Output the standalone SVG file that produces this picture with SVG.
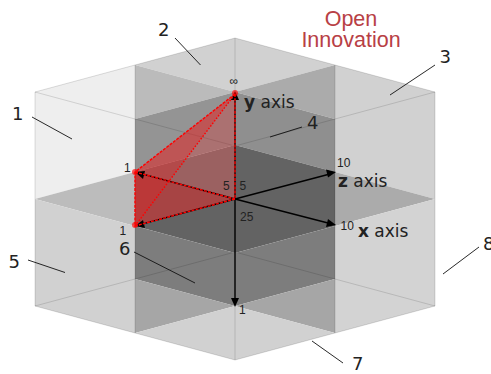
<svg xmlns="http://www.w3.org/2000/svg" width="491" height="374" viewBox="0 0 491 374">
<style>
.f{stroke:none}
.e{fill:none;stroke:#000;stroke-opacity:.13;stroke-width:1}
.l{fill:none;stroke:#111;stroke-width:.9}
.a{fill:none;stroke:#000;stroke-width:1.4}
.h{fill:#000}
.r{fill:none;stroke:#f00;stroke-width:1.4;stroke-dasharray:3 1.2}
.d{fill:none;stroke:#f00;stroke-width:1.4;stroke-dasharray:1.6 1.6}
.v{fill:#f00;fill-opacity:.65}
text{font-family:"DejaVu Sans",sans-serif;fill:#222}
.n{font-size:18px}
.s{font-family:"Liberation Sans",sans-serif;font-size:12px}
.t{font-size:17px}
.o{font-family:"Liberation Sans",sans-serif;font-size:21.500px;fill:#b84045}
</style>
<g id="cube">
<polygon class="f" fill="#eeeeee" points="35,92 135,65 135,172 35,199"/>
<polygon class="f" fill="#bcbcbc" points="35,199 135,172 135,226"/>
<polygon class="f" fill="#d1d1d1" points="35,199 135,226 135,333 35,306"/>
<polygon class="f" fill="#d1d1d1" points="135,65 235,38 235,92"/>
<polygon class="f" fill="#bbbbbb" points="135,65 235,92 135,119"/>
<polygon class="f" fill="#949494" points="135,119 235,92 235,145 135,172"/>
<polygon class="f" fill="#7d7d7d" points="135,172 235,145 235,199"/>
<polygon class="f" fill="#6b6b6b" points="135,172 235,199 135,226"/>
<polygon class="f" fill="#636363" points="135,226 235,199 235,253"/>
<polygon class="f" fill="#7d7d7d" points="135,226 235,253 235,306 135,279"/>
<polygon class="f" fill="#a6a6a6" points="135,279 235,306 135,333"/>
<polygon class="f" fill="#d1d1d1" points="135,333 235,306 235,360"/>
<polygon class="f" fill="#d1d1d1" points="235,38 335,65 235,92"/>
<polygon class="f" fill="#ababab" points="235,92 335,65 335,119"/>
<polygon class="f" fill="#8f8f8f" points="235,92 335,119 335,172 235,145"/>
<polygon class="f" fill="#636363" points="235,145 335,172 335,226 235,253"/>
<polygon class="f" fill="#7d7d7d" points="235,253 335,226 335,279 235,306"/>
<polygon class="f" fill="#a6a6a6" points="235,306 335,279 335,333"/>
<polygon class="f" fill="#d1d1d1" points="235,306 335,333 235,360"/>
<polygon class="f" fill="#d1d1d1" points="335,65 435,92 435,199 335,172"/>
<polygon class="f" fill="#ababab" points="335,172 435,199 335,226"/>
<polygon class="f" fill="#d3d3d3" points="335,226 435,199 435,306 335,333"/>
</g>
<g id="cube-edges">
<path class="e" d="M35,199V92L135,65L235,38L335,65L435,92V306L335,333L235,360L135,333L35,306V199"/>
<path class="e" d="M35,92L135,119L235,146L335,119L435,92"/>
<path class="e" d="M35,306L135,279L235,252L335,279L435,306"/>
<path class="e" d="M135,65V333M335,65V333M235,38V92M235,306V360"/>
</g>
<g id="red-solid">
<polygon fill="#e02020" fill-opacity=".55" points="235,94 135,172 135,226"/>
<polygon fill="#e02020" fill-opacity=".3" points="235,94 135,226 235,199"/>
<polygon fill="#e02020" fill-opacity=".3" points="135,172 135,226 235,199"/>
</g>
<g id="connectors">
<path class="a" d="M235,199V98M235,199V300M235,199L328,174.500M235,199L328,223M235,199L141,173.600M235,199L141,224.400"/>
<polygon class="h" points="235,91 231,100 239,100"/>
<polygon class="h" points="235,307 231,298 239,298"/>
<polygon class="h" points="336,172 326,169.500 328,177.500"/>
<polygon class="h" points="336,225 328,219 326,227"/>
<polygon class="h" points="135,172 143,179 145,171"/>
<polygon class="h" points="135,226 145,228 143,220"/>
<path class="r" d="M235,94L135,172V226L235,199V94M135,172L235,199"/>
<path class="d" d="M135,226L235,94"/>
<circle class="v" cx="235" cy="93" r="3"/>
<circle class="v" cx="135" cy="172" r="3"/>
<circle class="v" cx="135" cy="225" r="3"/>
<path class="l" d="M32,117L72,139M175,38L200.500,65M435,65L390,95M302,127L270,137M28,260L65,272.500M134,252L195,283M312,341L343,363M479,247L443,274"/>
</g>
<g id="labels">
<text class="n" x="12" y="120">1</text>
<text class="n" x="158" y="36">2</text>
<text class="n" x="439.500" y="63">3</text>
<text class="n" x="307" y="129">4</text>
<text class="n" x="8.500" y="268">5</text>
<text class="n" x="119" y="255">6</text>
<text class="n" x="352" y="370">7</text>
<text class="n" x="483" y="250">8</text>
<text class="s" x="124" y="172">1</text>
<text class="s" x="119.500" y="235">1</text>
<text class="s" x="239" y="314">1</text>
<text class="s" x="229.500" y="85">∞</text>
<text class="s" x="223" y="190">5</text>
<text class="s" x="239.500" y="190">5</text>
<text class="s" x="240" y="221">25</text>
<text class="s" x="337" y="167">10</text>
<text class="s" x="340.500" y="230">10</text>
<text class="t" x="244" y="108"><tspan font-weight="bold">y</tspan> axis</text>
<text class="t" x="338" y="187"><tspan font-weight="bold">z</tspan> axis</text>
<text class="t" x="358" y="237"><tspan font-weight="bold">x</tspan> axis</text>
<text class="o" x="351" y="26" text-anchor="middle">Open</text>
<text class="o" x="351" y="47" text-anchor="middle">Innovation</text>
</g>
</svg>
